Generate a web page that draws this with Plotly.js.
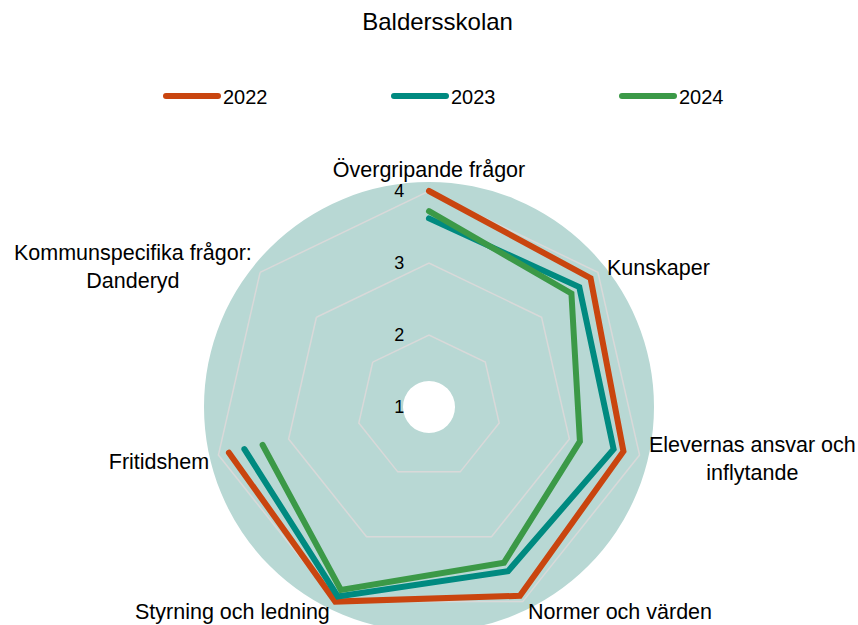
<!DOCTYPE html>
<html><head><meta charset="utf-8">
<script src="https://cdn.plot.ly/plotly-3.0.1.min.js"></script>
<style>
html,body{margin:0;padding:0;overflow:hidden;background:#fff}
#chart{width:858px;height:640px}
#chart path.js-line{stroke-linecap:round}
</style>
</head><body><div id="chart"></div>
<script>
const categories = ['Övergripande frågor', 'Kunskaper', 'Elevernas ansvar och inflytande', 'Normer och värden', 'Styrning och ledning', 'Fritidshem', 'Kommunspecifika frågor: Danderyd'];
// labels drawn by the angular axis ('' = drawn as an annotation below)
const axisLabels = ['Övergripande frågor', '', '', '', '', 'Fritidshem', ''];
const years = ['2022', '2023', '2024'];
const values2022 = [4.00, 3.87, 3.77, 3.91, 4.00, 3.85, null];
const values2023 = [3.62, 3.67, 3.63, 3.53, 3.92, 3.63, null];
const values2024 = [3.72, 3.53, 3.15, 3.40, 3.82, 3.37, null];
const radialTicks = [1, 2, 3, 4];

const series = [values2022, values2023, values2024];
const colors = ['#C9450F', '#008A80', '#3B9947'];

const traces = [{
  type: 'scatterpolar', subplot: 'polar', r: [], theta: [], mode: 'lines',
  showlegend: false, hoverinfo: 'skip'
}];
series.forEach((v, i) => {
  const t = {
    type: 'scatterpolar', subplot: 'polar2', r: v, theta: categories,
    mode: 'lines', name: years[i], connectgaps: false, cliponaxis: false,
    line: {color: colors[i], width: 6}
  };
  if (i === series.length - 1) t.legendwidth = 60;
  traces.push(t);
});

// plot-area geometry (px)
const W = 858, H = 640, L = 204, T = 182, S = 450;
const px = x => (x - L) / S;
const py = y => (T + S - y) / S;
const labelSize = 21.5;

const annotations = [
  {text: 'Kunskaper', x: px(605), y: py(268), xanchor: 'left', yanchor: 'middle'},
  {text: 'Elevernas ansvar och<br>inflytande', x: px(752), y: py(459), xanchor: 'center', yanchor: 'middle'},
  {text: 'Normer och värden', x: px(526), y: py(612), xanchor: 'left', yanchor: 'middle'},
  {text: 'Styrning och ledning', x: px(332), y: py(612), xanchor: 'right', yanchor: 'middle'},
  {text: 'Kommunspecifika frågor:<br>Danderyd', x: px(133), y: py(267), xanchor: 'center', yanchor: 'middle'}
].map(a => Object.assign({xref: 'paper', yref: 'paper', showarrow: false, align: 'center',
                          font: {size: labelSize}}, a));

const layout = {
  width: W, height: H,
  margin: {l: L, r: W - L - S, t: T, b: H - T - S, pad: 0},
  paper_bgcolor: '#ffffff',
  font: {family: 'Liberation Sans, Arial, sans-serif', color: '#000000', size: labelSize},
  title: {text: 'Baldersskolan', font: {size: 24}, x: 0.51, xref: 'container', xanchor: 'center',
          y: 1 - 22 / H, yref: 'container', yanchor: 'middle'},
  showlegend: true,
  legend: {orientation: 'h', x: px(161), xref: 'paper', xanchor: 'left',
           y: py(96), yref: 'paper', yanchor: 'middle',
           font: {size: 20}, itemwidth: 52, entrywidth: 161, entrywidthmode: 'pixels',
           traceorder: 'normal', bgcolor: 'rgba(0,0,0,0)'},
  annotations: annotations,
  polar: {
    domain: {x: [0, 1], y: [0, 1]}, bgcolor: '#B8D8D4', hole: 0.1156,
    radialaxis: {visible: false}, angularaxis: {visible: false}
  },
  polar2: {
    domain: {x: [0, 1], y: [0, 1]}, bgcolor: 'rgba(0,0,0,0)', gridshape: 'linear',
    radialaxis: {range: [1, 4.125], tickvals: radialTicks, showline: false, showgrid: true,
                 gridcolor: '#D9D9D9', gridwidth: 1.5, angle: 90, side: 'counterclockwise',
                 ticks: 'outside', ticklen: 18, tickcolor: 'rgba(0,0,0,0)',
                 tickangle: 90, tickfont: {size: 18}},
    angularaxis: {type: 'category', categoryarray: categories, direction: 'clockwise', rotation: 90,
                  tickmode: 'array', tickvals: categories, ticktext: axisLabels,
                  showgrid: false, showline: false, ticks: '', tickfont: {size: labelSize}}
  }
};

Plotly.newPlot('chart', traces, layout, {displayModeBar: false, staticPlot: true});
</script>
</body></html>
